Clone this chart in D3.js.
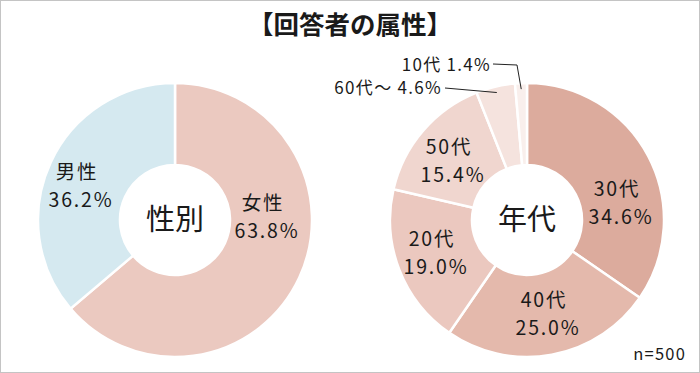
<!DOCTYPE html>
<html>
<head>
<meta charset="utf-8">
<script src="https://cdn.jsdelivr.net/npm/d3@7"></script>
<style>
  body { margin: 0; background: #fff; }
  svg text { font-family: "Noto Sans CJK JP", "Noto Sans", sans-serif; fill: #1a1a1a; }
</style>
</head>
<body>
<div id="chart"></div>
<script>
// data
const genderLabels = ["女性", "男性"];
const genderValues = [63.8, 36.2];
const ageLabels = ["30代", "40代", "20代", "50代", "60代～", "10代"];
const ageValues = [34.6, 25.0, 19.0, 15.4, 4.6, 1.4];
const sampleText = "n=500";

const width = 700, height = 373;
const outerR = 137, innerR = 55;

const genderColors = ["#ebc9c0", "#d5e9f0"];
const ageColors = ["#dcab9d", "#e4b9ac", "#ebc8bf", "#f0d6cf", "#f5e3de", "#f9efec"];

let svg = d3.select("#chart")
    .append("svg")
    .attr("width", width)
    .attr("height", height);

svg.append("rect")
    .attr("x", 0.5).attr("y", 0.5)
    .attr("width", width - 1).attr("height", height - 1)
    .attr("fill", "#fff")
    .attr("stroke", "#c4c4c4");

svg.append("text")
    .attr("x", width / 2)
    .attr("y", 34)
    .attr("text-anchor", "middle")
    .style("font-size", "25.5px")
    .style("font-weight", "bold")
    .text("【回答者の属性】");

let pie = d3.pie().sort(null).value(d => d);
let arc = d3.arc().innerRadius(innerR).outerRadius(outerR);

function donut(cx, cy, values, colors, centerText) {
    let g = svg.append("g").attr("transform", `translate(${cx},${cy})`);
    let arcs = pie(values);
    g.selectAll("path")
        .data(arcs)
        .enter().append("path")
        .attr("d", arc)
        .attr("fill", (d, i) => colors[i])
        .attr("stroke", "#fff")
        .attr("stroke-width", 2.5);
    g.append("text")
        .attr("y", 10)
        .attr("text-anchor", "middle")
        .style("font-size", "29px")
        .text(centerText);
    return {g: g, arcs: arcs};
}

function twoLine(g, x, y, name, val) {
    let t = g.append("text")
        .attr("text-anchor", "middle")
        .style("font-size", "19.5px")
        .style("letter-spacing", "1.8px");
    t.append("tspan").attr("x", x).attr("y", y).text(name);
    t.append("tspan").attr("x", x + 4).attr("y", y + 28).text(val.toFixed(1) + "%");
}

// left: gender
let left = donut(175, 220, genderValues, genderColors, "性別");
// label spots relative to the donut center
const genderLabelPos = [[88, -10], [-98, -41]];
genderValues.forEach((v, i) => {
    twoLine(left.g, genderLabelPos[i][0], genderLabelPos[i][1], genderLabels[i], v);
});

// right: age
let right = donut(527, 220, ageValues, ageColors, "年代");
const ageLabelPos = [[90, -24], [17, 87], [-95, 26], [-78, -66]];
ageValues.slice(0, 4).forEach((v, i) => {
    twoLine(right.g, ageLabelPos[i][0], ageLabelPos[i][1], ageLabels[i], v);
});

// small slices with leader lines
let leaderArc = d3.arc().innerRadius(131).outerRadius(131);
let p60 = leaderArc.centroid(right.arcs[4]);
let p10 = leaderArc.centroid(right.arcs[5]);

right.g.append("path")
    .attr("d", d3.line()([[-82, -132], p60]))
    .attr("fill", "none").attr("stroke", "#222").attr("stroke-width", 1);
right.g.append("path")
    .attr("d", d3.line()([[-34, -156], [-10, -155], p10]))
    .attr("fill", "none").attr("stroke", "#222").attr("stroke-width", 1);

right.g.append("text")
    .attr("x", -85).attr("y", -126)
    .attr("text-anchor", "end")
    .style("font-size", "17px")
    .style("letter-spacing", "1.3px")
    .text(ageLabels[4] + " " + ageValues[4].toFixed(1) + "%");
right.g.append("text")
    .attr("x", -36).attr("y", -149)
    .attr("text-anchor", "end")
    .style("font-size", "17px")
    .style("letter-spacing", "1.3px")
    .text(ageLabels[5] + " " + ageValues[5].toFixed(1) + "%");

svg.append("text")
    .attr("x", 686).attr("y", 360)
    .attr("text-anchor", "end")
    .style("font-size", "16.5px")
    .style("letter-spacing", "1.2px")
    .text(sampleText);
</script>
</body>
</html>
